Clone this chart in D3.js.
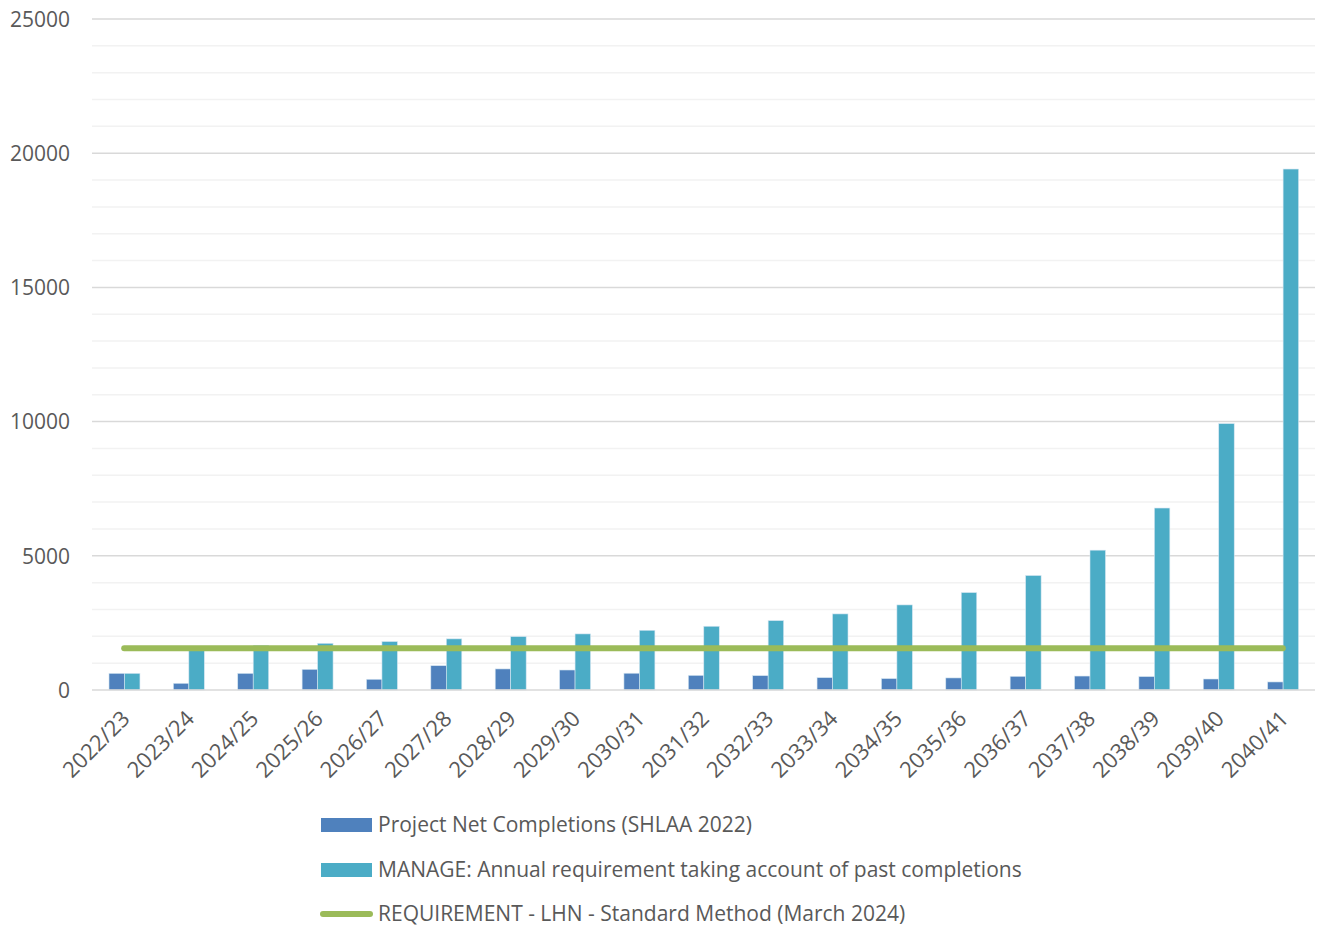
<!DOCTYPE html>
<html>
<head>
<meta charset="utf-8">
<script src="https://cdn.jsdelivr.net/npm/d3@7"></script>
<style>
	html, body { margin: 0; padding: 0; background: #ffffff; }
	svg text { font-family: "Open Sans", "Noto Sans", sans-serif; fill: #595959; }
</style>
</head>
<body>
<svg id="chart" width="1317" height="931"></svg>
<script>
// data
const years = ['2022/23', '2023/24', '2024/25', '2025/26', '2026/27', '2027/28', '2028/29',
	'2029/30', '2030/31', '2031/32', '2032/33', '2033/34', '2034/35', '2035/36', '2036/37',
	'2037/38', '2038/39', '2039/40', '2040/41'];
const completions = [620, 250, 620, 770, 400, 905, 785, 745, 625, 545, 535, 460, 425, 450, 510, 520, 500, 410, 300];
const manage = [620, 1500, 1665, 1740, 1805, 1905, 1990, 2090, 2225, 2375, 2585, 2835, 3170, 3630, 4265, 5210, 6780, 9925, 19410];
const requirement = 1556;
const yTicks = [0, 5000, 10000, 15000, 20000, 25000];
const seriesNames = [
	'Project Net Completions (SHLAA 2022)',
	'MANAGE: Annual requirement taking account of past completions',
	'REQUIREMENT - LHN - Standard Method (March 2024)'
];
const colors = { completions: '#4f81bd', manage: '#4bacc6', requirement: '#9bbb59' };

const plot = { left: 92, right: 1315, top: 19, bottom: 690 };
const fontSize = '21px';
const svg = d3.select('#chart');

var x = d3.scaleBand()
	.domain(years)
	.range([plot.left, plot.right]);
var bw = x.bandwidth();
var x1 = d3.scaleBand()
	.domain(['completions', 'manage'])
	.range([bw * 0.264, bw * 0.745]);
var y = d3.scaleLinear()
	.domain([0, 25000])
	.range([plot.bottom, plot.top]);

// gridlines: minor every 1000, major every 5000
var gridValues = d3.range(1000, 25001, 1000);
svg.append('g').selectAll('line')
	.data(gridValues)
	.enter().append('line')
	.attr('x1', plot.left).attr('x2', plot.right)
	.attr('y1', function(d) { return y(d) }).attr('y2', function(d) { return y(d) })
	.style('stroke', function(d) { return d % 5000 == 0 ? '#d9d9d9' : '#f2f2f2' })
	.style('stroke-width', 1.5);

// y labels
var yAxis = svg.append('g')
	.attr('transform', 'translate(' + [ 70, 0 ] + ')')
	.call(d3.axisLeft(y).tickValues(yTicks).tickSize(0).tickPadding(0).tickFormat(d3.format('d')));
yAxis.select('.domain').remove();
yAxis.selectAll('text')
	.style('font-size', fontSize)
	.attr('dy', '0.35em')
	.style('fill', '#595959');

// bars
var groups = svg.append('g').selectAll('g')
	.data(years)
	.enter().append('g')
	.attr('transform', function(d) { return 'translate(' + [ x(d), 0 ] + ')' });

groups.each(function(d, i) {
	var g = d3.select(this);
	var vals = { completions: completions[i], manage: manage[i] };
	['completions', 'manage'].forEach(function(key) {
		g.append('rect')
			.attr('x', x1(key))
			.attr('width', x1.bandwidth())
			.attr('y', y(vals[key]))
			.attr('height', y(0) - y(vals[key]))
			.style('fill', colors[key])
			.style('stroke', '#d6e6f2')
			.style('stroke-width', 0.6);
	});
});

// zero axis line
svg.append('line')
	.attr('x1', plot.left).attr('x2', plot.right)
	.attr('y1', y(0)).attr('y2', y(0))
	.style('stroke', '#d9d9d9')
	.style('stroke-width', 1.5);

// requirement line
var line = d3.line()
	.x(function(d) { return x(d) + bw / 2 })
	.y(function() { return y(requirement) });
svg.append('path')
	.datum(years)
	.attr('d', line)
	.style('fill', 'none')
	.style('stroke', colors.requirement)
	.style('stroke-width', 6)
	.style('stroke-linecap', 'round');

// x labels
svg.append('g').selectAll('text')
	.data(years)
	.enter().append('text')
	.attr('transform', function(d) { return 'translate(' + [ x(d) + bw / 2 + 7, 720 ] + ') rotate(-45)' })
	.attr('text-anchor', 'end')
	.style('font-size', '22px')
	.text(function(d) { return d });

// legend
var legendX = 321, legendY = [825, 870, 914];
var legend = svg.append('g');
seriesNames.forEach(function(name, i) {
	if (i < 2) {
		legend.append('rect')
			.attr('x', legendX).attr('y', legendY[i] - 7)
			.attr('width', 51).attr('height', 14)
			.style('fill', i == 0 ? colors.completions : colors.manage);
	} else {
		legend.append('line')
			.attr('x1', legendX + 2).attr('x2', legendX + 49)
			.attr('y1', legendY[i]).attr('y2', legendY[i])
			.style('stroke', colors.requirement)
			.style('stroke-width', 6)
			.style('stroke-linecap', 'round');
	}
	legend.append('text')
		.attr('x', 378).attr('y', legendY[i])
		.attr('dy', '0.35em')
		.style('font-size', fontSize)
		.text(name);
});
</script>
</body>
</html>
